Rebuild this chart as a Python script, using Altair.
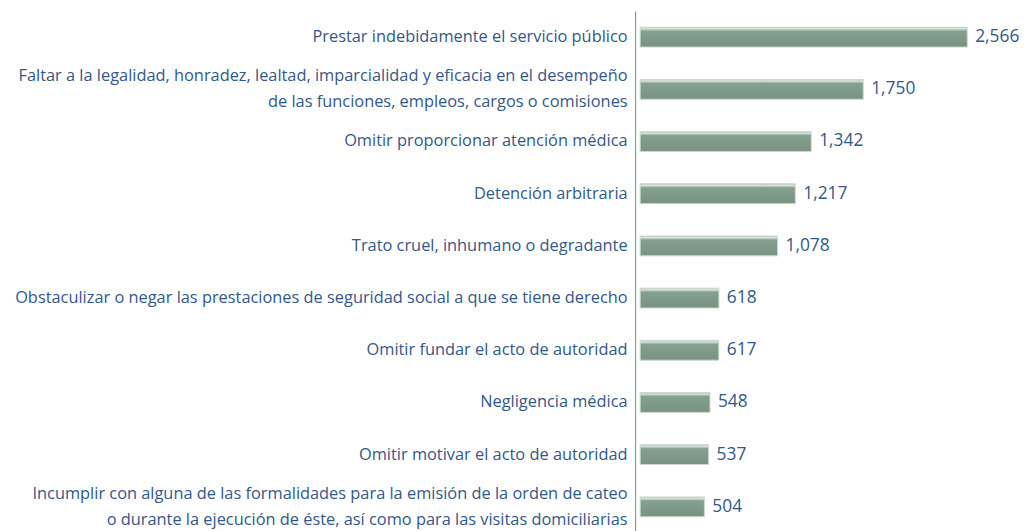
import altair as alt
import pandas as pd

categories = [
    "Prestar indebidamente el servicio público",
    "Faltar a la legalidad, honradez, lealtad, imparcialidad y eficacia en el desempeño|de las funciones, empleos, cargos o comisiones",
    "Omitir proporcionar atención médica",
    "Detención arbitraria",
    "Trato cruel, inhumano o degradante",
    "Obstaculizar o negar las prestaciones de seguridad social a que se tiene derecho",
    "Omitir fundar el acto de autoridad",
    "Negligencia médica",
    "Omitir motivar el acto de autoridad",
    "Incumplir con alguna de las formalidades para la emisión de la orden de cateo|o durante la ejecución de éste, así como para las visitas domiciliarias",
]
values = [2566, 1750, 1342, 1217, 1078, 618, 617, 548, 537, 504]

df = pd.DataFrame({"cat": categories, "val": values})

LABEL_COLOR = "#34578a"
FONT = "Open Sans"

gradient = {
    "gradient": "linear",
    "x1": 0, "y1": 0, "x2": 0, "y2": 1,
    "stops": [
        {"offset": 0.0, "color": "#adc0b3"},
        {"offset": 0.08, "color": "#dbe5df"},
        {"offset": 0.2, "color": "#84a08e"},
        {"offset": 1.0, "color": "#789283"},
    ],
}

y_enc = alt.Y(
    "cat:N",
    sort=categories,
    scale=alt.Scale(paddingInner=0.62, paddingOuter=0.31),
    axis=alt.Axis(
        title=None,
        labelExpr="split(datum.label, '|')",
        labelOffset={"condition": {"test": "indexof(datum.label, '|') >= 0", "value": -13}, "value": 0},
        ticks=False,
        labelPadding=8,
        labelFontSize=16.5,
        labelFont=FONT,
        labelColor=LABEL_COLOR,
        labelLimit=0,
        labelLineHeight=26,
        domainColor="#8c9c8f",
        domainWidth=1.2,
    ),
)

x_enc = alt.X("val:Q", axis=None, scale=alt.Scale(domain=[-40, 2980], nice=False, zero=False))

bars = alt.Chart(df).mark_bar(
    color=gradient, stroke="#cdd8d0", strokeWidth=1
).encode(y=y_enc, x=x_enc, x2=alt.datum(0))

labels = alt.Chart(df).mark_text(
    align="left", baseline="middle", dx=8, fontSize=17.5, font=FONT, color=LABEL_COLOR
).encode(y=alt.Y("cat:N", sort=categories), x=alt.X("val:Q"), text=alt.Text("val:Q", format=","))

chart = (
    alt.layer(bars, labels)
    .properties(
        width=388,
        height=526,
        autosize=alt.AutoSizeParams(type="none"),
        padding={"left": 632, "top": 1, "right": 3, "bottom": 0},
    )
    .configure_view(stroke=None)
)

chart.save("out.html", embed_options={"renderer": "svg", "actions": False})
